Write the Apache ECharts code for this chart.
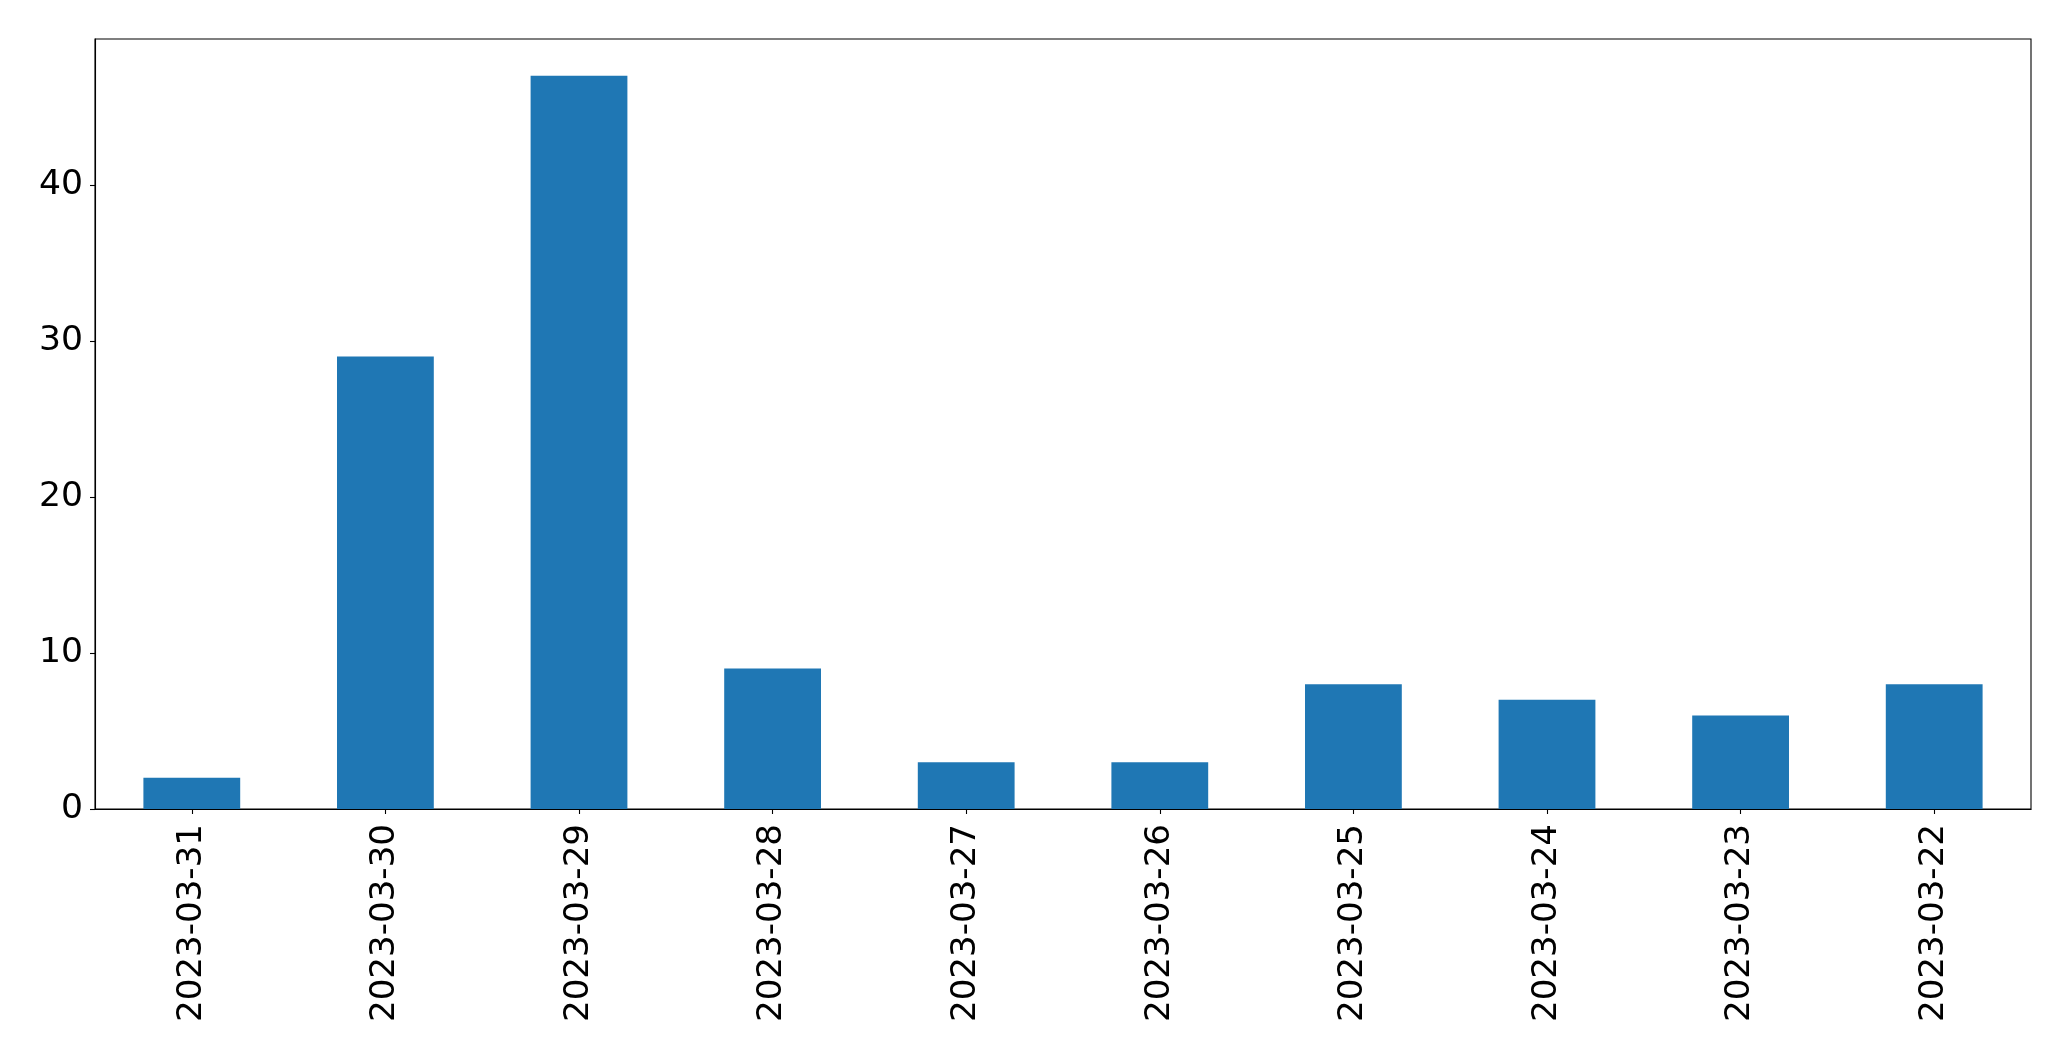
<!DOCTYPE html>
<html>
<head>
<meta charset="utf-8">
<script src="https://cdn.jsdelivr.net/npm/echarts@6/dist/echarts.min.js"></script>
<style>
html,body{margin:0;padding:0;background:#fff;}
#chart{width:2071px;height:1061px;}
</style>
</head>
<body>
<div id="chart"></div>
<script>
const categories = ["2023-03-31","2023-03-30","2023-03-29","2023-03-28","2023-03-27","2023-03-26","2023-03-25","2023-03-24","2023-03-23","2023-03-22"];
const values = [2, 29, 47, 9, 3, 3, 8, 7, 6, 8];
const yTicks = [0, 10, 20, 30, 40];

const chart = echarts.init(document.getElementById('chart'), null, {renderer: 'canvas'});
const font = 'DejaVu Sans';
chart.setOption({
  animation: false,
  backgroundColor: '#ffffff',
  grid: {left: 95, right: 40, top: 39, bottom: 252, show: true, borderColor: '#000', borderWidth: 1.1, backgroundColor: 'transparent'},
  xAxis: {
    type: 'category',
    data: categories,
    boundaryGap: true,
    axisLine: {show: true, lineStyle: {color: '#000', width: 1.1}},
    axisTick: {show: true, alignWithLabel: true, length: 5, lineStyle: {color: '#000', width: 1.1}},
    axisLabel: {rotate: 90, color: '#000', fontFamily: font, fontSize: 34.1, margin: 15, interval: 0},
    splitLine: {show: false}
  },
  yAxis: {
    type: 'value',
    min: 0,
    max: 49.35,
    interval: 10,
    axisLine: {show: true, lineStyle: {color: '#000', width: 1.1}},
    axisTick: {show: true, length: 5, customValues: yTicks, lineStyle: {color: '#000', width: 1.1}},
    axisLabel: {color: '#000', fontFamily: font, fontSize: 34.6, margin: 12, customValues: yTicks},
    splitLine: {show: false}
  },
  series: [{
    type: 'bar',
    data: values,
    barWidth: '50%',
    itemStyle: {color: '#1f77b4'}
  }]
});
</script>
</body>
</html>
